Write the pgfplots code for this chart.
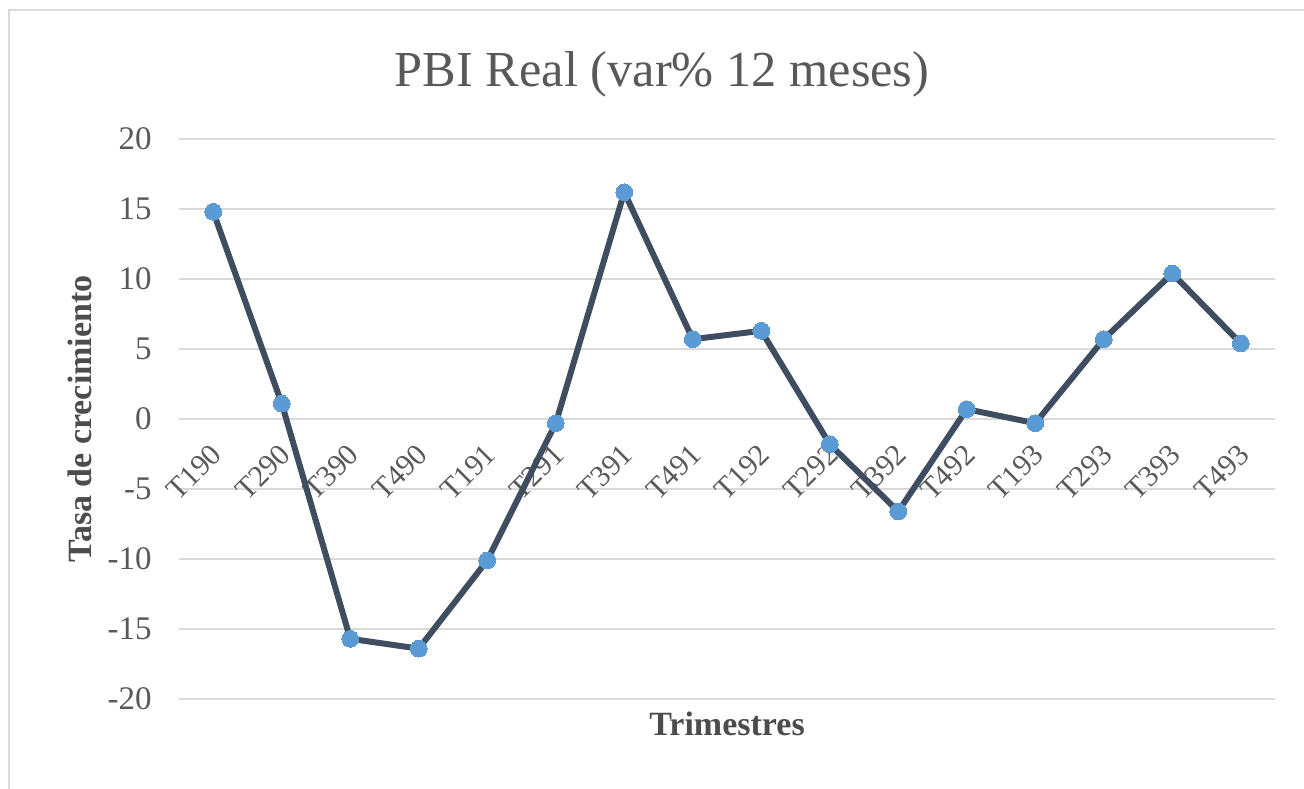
\documentclass[border=0pt]{standalone}
\usepackage{fontspec}
\setmainfont{Liberation Serif}
\usepackage{pgfplots}
\pgfplotsset{compat=1.18}
\definecolor{lineC}{HTML}{3F4D60}
\definecolor{markC}{HTML}{5B9BD5}
\definecolor{gridC}{HTML}{D9D9D9}
\definecolor{txtC}{HTML}{595959}
\begin{document}
\begin{tikzpicture}
\useasboundingbox (0,0) rectangle (652pt,394pt);
\draw[gridC, line width=0.8pt] (4.5pt,-20pt) -- (4.5pt,389pt) -- (680pt,389pt);
\node[text=txtC, font=\fontsize{25.2}{28}\selectfont] at (331pt,357pt) {PBI Real (var\% 12 meses)};
\begin{axis}[
  at={(89.5pt,44.5pt)}, anchor=south west,
  scale only axis, width=548pt, height=280pt,
  xmin=-0.5, xmax=15.5, ymin=-20, ymax=20,
  axis x line=middle, axis y line=left,
  axis line style={draw=none},
  hide obscured x ticks=false, hide obscured y ticks=false,
  major tick length=0pt,
  ytick={-20,-15,-10,-5,0,5,10,15,20},
  yticklabels={-20,-15,-10,-5,0,5,10,15,20},
  xtick={0,...,15},
  xticklabels={T190,T290,T390,T490,T191,T291,T391,T491,T192,T292,T392,T492,T193,T293,T393,T493},
  ymajorgrids, grid style={gridC, line width=0.8pt},
  tick label style={text=txtC},
  yticklabel style={inner sep=0pt, anchor=east, xshift=-13.5pt, font=\fontsize{16.5}{20}\selectfont},
  xticklabel style={inner sep=0pt, xshift=-2pt, yshift=-11.5pt, rotate=45, anchor=north east, font=\fontsize{15}{18}\selectfont},
  xlabel={Trimestres}, ylabel={Tasa de crecimiento},
  label style={text=txtC!85!black, font=\bfseries\fontsize{17}{20}\selectfont},
  xlabel style={at={(axis description cs:0.5,0)}, anchor=center, yshift=-12.5pt},
  ylabel style={at={(axis description cs:-0.0903,0.5)}, anchor=center},
  clip=false,
]
\addplot[lineC, line width=3pt, mark=*, mark size=4.2pt, mark options={draw=markC, fill=markC, line width=0pt}]
coordinates {
(0,14.8) (1,1.1) (2,-15.7) (3,-16.4) (4,-10.1) (5,-0.3) (6,16.2) (7,5.7)
(8,6.3) (9,-1.8) (10,-6.6) (11,0.7) (12,-0.3) (13,5.7) (14,10.4) (15,5.4)
};
\end{axis}
\end{tikzpicture}
\end{document}
